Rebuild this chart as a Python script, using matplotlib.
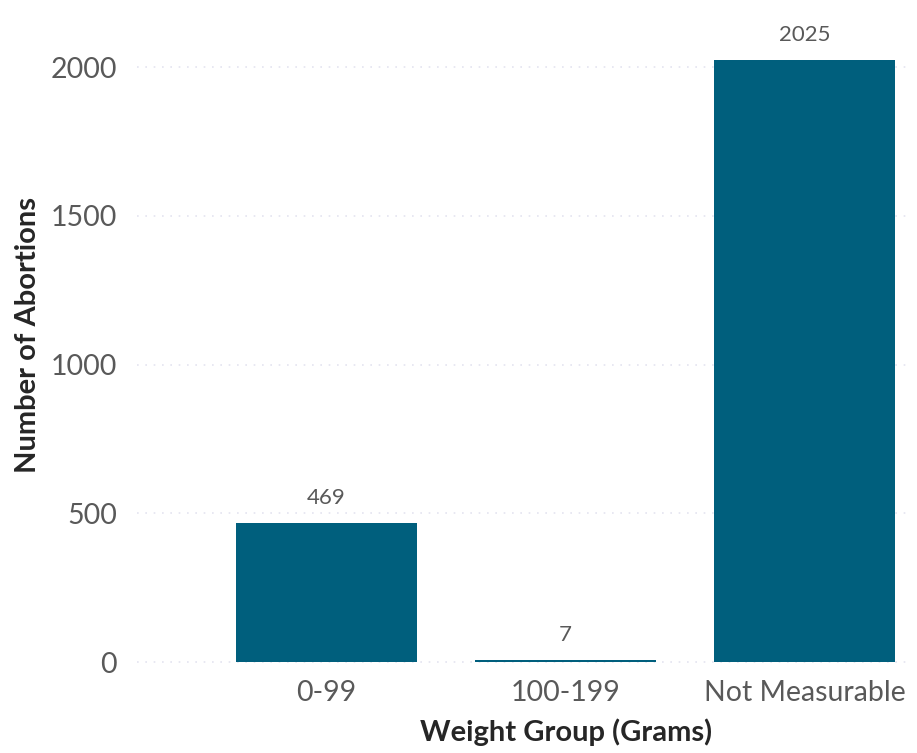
import matplotlib
matplotlib.use("Agg")
import matplotlib.pyplot as plt

groups = ["0-99", "100-199", "Not Measurable"]
counts = [469, 7, 2025]

plt.rcParams['font.family'] = ['Lato', 'DejaVu Sans']

fig = plt.figure(figsize=(9.17, 7.53), dpi=100)
ax = fig.add_axes([0.149, 0.110, 0.843, 0.8234])

x = range(len(groups))
ax.bar(x, counts, width=0.76, color="#005f7d", zorder=2)
for xi, c in zip(x, counts):
    ax.text(xi, c + 50, str(c), ha="center", va="bottom", fontsize=16, color="#595959")

ax.set_xlim(-0.795, 2.44)
ax.set_ylim(-27, 2057)
ax.set_yticks([0, 500, 1000, 1500, 2000])
ax.set_xticks(list(x))
ax.set_xticklabels(groups)
ax.tick_params(axis="both", length=0, labelsize=20.5, labelcolor="#595959")
ax.tick_params(axis="x", pad=7)
ax.tick_params(axis="y", pad=14)
ax.grid(axis="y", color="#e4e4f0", linestyle=(0, (1, 4)), linewidth=1.2, zorder=0)
for s in ax.spines.values():
    s.set_visible(False)

ax.set_xlabel("Weight Group (Grams)", fontsize=21, fontweight="bold", color="#262626")
ax.xaxis.set_label_coords(0.556, -0.078)
ax.set_ylabel("Number of Abortions", fontsize=21, fontweight="bold", color="#262626")
ax.yaxis.set_label_coords(-0.124, 0.54)

fig.savefig("out.png", dpi=100, facecolor="white")
